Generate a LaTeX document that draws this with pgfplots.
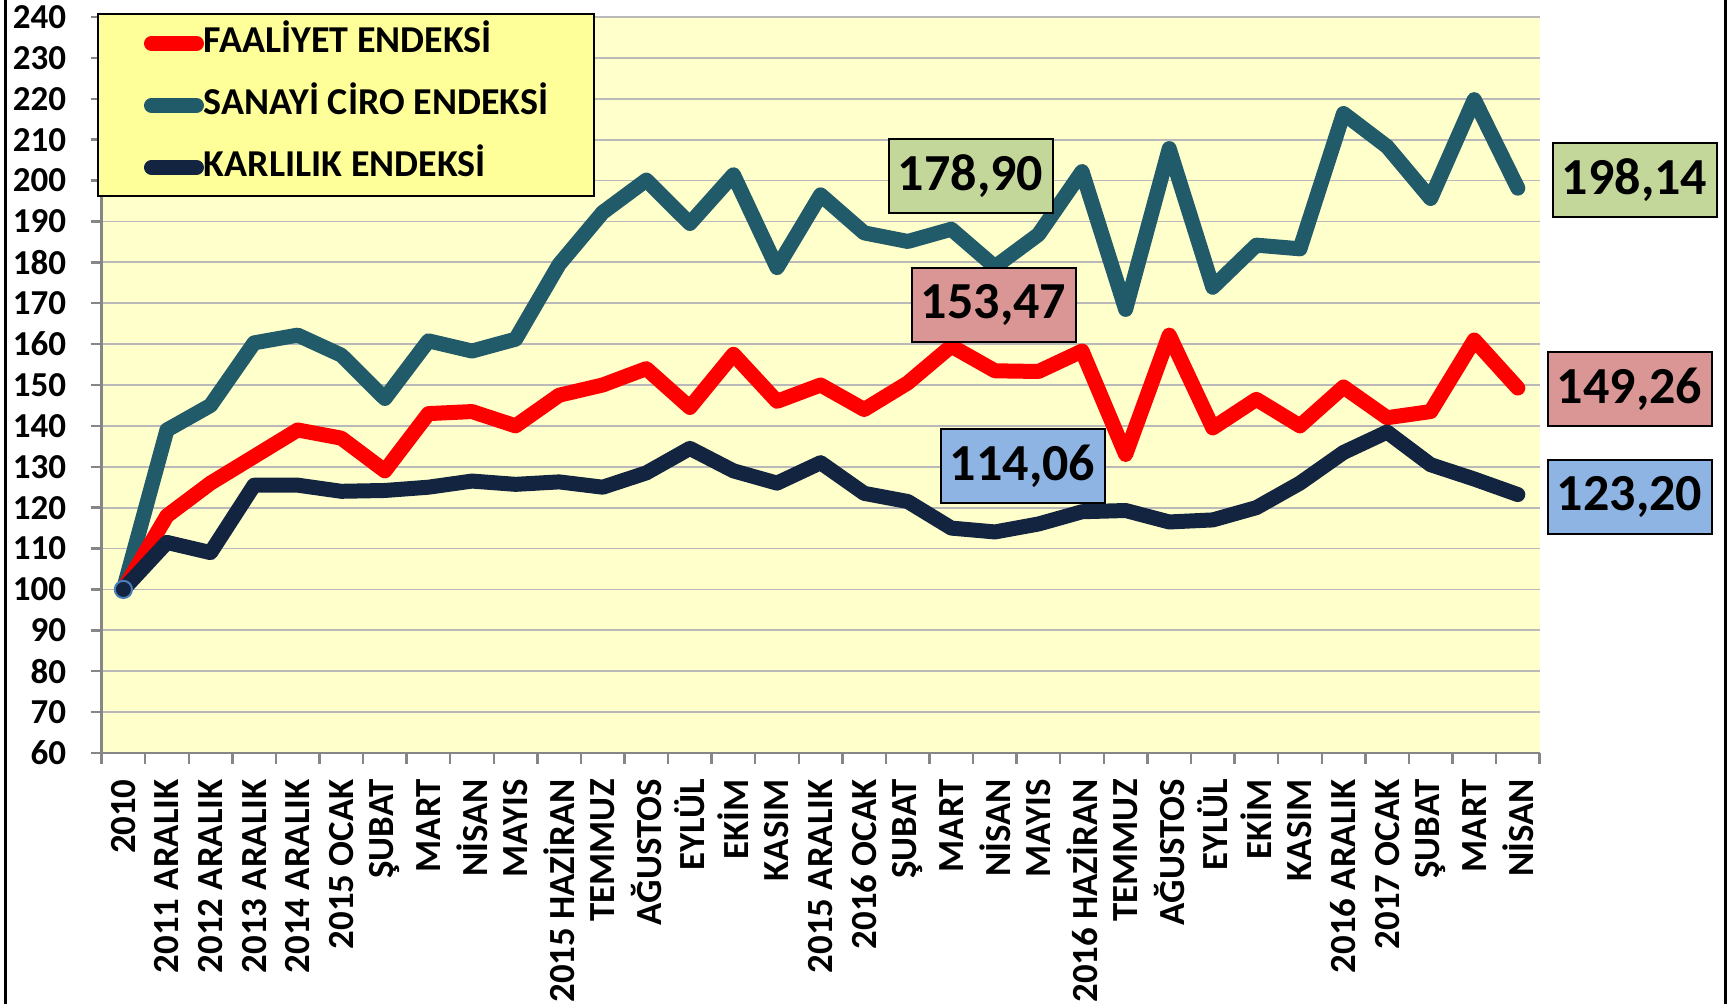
\documentclass[border=0pt]{standalone}
\usepackage{fontspec}
\setmainfont{Carlito}
\usepackage{pgfplots}
\pgfplotsset{compat=1.18}
\definecolor{faal}{HTML}{FF0000}
\definecolor{sanayi}{HTML}{215A69}
\definecolor{karl}{HTML}{12243F}
\definecolor{bgyel}{HTML}{FFFFCC}
\definecolor{legyel}{HTML}{FFFF99}
\definecolor{boxg}{HTML}{C4D79B}
\definecolor{boxr}{HTML}{DA9694}
\definecolor{boxb}{HTML}{8DB4E2}
\definecolor{axgray}{HTML}{868686}
\definecolor{mkblue}{HTML}{4A7EBB}
\begin{document}
\begin{tikzpicture}
\useasboundingbox (0,0) rectangle (865.5pt,502pt);
\begin{axis}[
  at={(50.8pt,125.5pt)}, anchor=south west,
  scale only axis, width=719pt, height=368pt,
  xmin=-0.5, xmax=32.5, ymin=60, ymax=240,
  axis x line=bottom, axis y line=left,
  axis line style={-, draw=axgray, line width=1.2pt},
  every outer x axis line/.append style={-},
  every outer y axis line/.append style={-},
  axis background/.style={fill=bgyel},
  ytick={60,70,...,240},
  ymajorgrids, major grid style={draw=gray!55, line width=0.9pt},
  xtick={-0.5,0.5,...,32.5},
  x tick label as interval,
  xticklabels={2010, 2011 ARALIK, 2012 ARALIK, 2013 ARALIK, 2014 ARALIK, 2015 OCAK, ŞUBAT, MART, NİSAN, MAYIS, 2015 HAZİRAN, TEMMUZ, AĞUSTOS, EYLÜL, EKİM, KASIM, 2015 ARALIK, 2016 OCAK, ŞUBAT, MART, NİSAN, MAYIS, 2016 HAZİRAN, TEMMUZ, AĞUSTOS, EYLÜL, EKİM, KASIM, 2016 ARALIK, 2017 OCAK, ŞUBAT, MART, NİSAN},
  tick align=outside, major tick length=5.5pt,
  tick style={draw=axgray, line width=1.2pt},
  xticklabel style={font=\bfseries\fontsize{18.4}{18.4}\selectfont, rotate=90, anchor=east, inner sep=0pt, xshift=-7.5pt},
  yticklabel style={font=\bfseries\fontsize{17.5}{17.5}\selectfont, anchor=east, inner sep=0pt, xshift=-12pt},
  /pgf/number format/assume math mode=true,
  legend style={at={(-0.0032,1.0048)}, anchor=north west, fill=legyel, draw=black, line width=1pt,
    inner xsep=23pt, inner ysep=7pt, font=\bfseries\fontsize{19}{19}\selectfont,
    row sep=16pt, column sep=0pt, nodes={inner sep=0pt, text height=12pt, text depth=3pt}, cells={anchor=west}},
  legend image code/.code={\draw[#1, line cap=round] (3.75pt,0pt) -- (26.25pt,0pt);},
]
\addlegendimage{faal, line width=7.5pt}
\addlegendentry{FAALİYET ENDEKSİ}
\addlegendimage{sanayi, line width=7.5pt}
\addlegendentry{SANAYİ CİRO ENDEKSİ}
\addlegendimage{karl, line width=7.5pt}
\addlegendentry{KARLILIK ENDEKSİ}

% SANAYI CIRO ENDEKSI
\addplot[sanayi, line width=7.5pt, line join=round, line cap=round, forget plot] coordinates {
(0,100) (1,139) (2,145) (3,160.3) (4,162.2) (5,157.3) (6,146.7) (7,160.8) (8,158.3) (9,161.2)
(10,179.5) (11,192.2) (12,200.1) (13,189.5) (14,201.4) (15,178.7) (16,196.5) (17,187.2) (18,185.1) (19,188.1)
(20,178.90) (21,186.8) (22,202.2) (23,168.5) (24,207.8) (25,173.9) (26,184.2) (27,183.3) (28,216.4) (29,208.3)
(30,195.6) (31,219.8) (32,198.14)};
% FAALIYET ENDEKSI
\addplot[faal, line width=7.5pt, line join=round, line cap=round, forget plot] coordinates {
(0,100) (1,118) (2,126) (3,132.5) (4,139) (5,137) (6,129) (7,143) (8,143.5) (9,140)
(10,147.5) (11,150) (12,154) (13,144.5) (14,157.5) (15,146) (16,150) (17,144) (18,150.5) (19,159.5)
(20,153.47) (21,153.3) (22,158.3) (23,133) (24,162.2) (25,139.5) (26,146.5) (27,140) (28,149.5) (29,142)
(30,143.5) (31,161) (32,149.26)};
% KARLILIK ENDEKSI
\addplot[karl, line width=7.5pt, line join=round, line cap=round, forget plot] coordinates {
(0,100) (1,111.5) (2,109) (3,125.5) (4,125.5) (5,124) (6,124.2) (7,125) (8,126.5) (9,125.7)
(10,126.3) (11,125) (12,128.5) (13,134.5) (14,129) (15,126) (16,131) (17,123.5) (18,121.5) (19,115)
(20,114.06) (21,116) (22,119) (23,119.3) (24,116.5) (25,117) (26,120) (27,126) (28,133.5) (29,138.5)
(30,130.5) (31,127) (32,123.20)};
\addplot[only marks, mark=*, mark size=4.3pt, mark options={fill=karl, draw=mkblue, line width=1pt}, forget plot] coordinates {(0,100)};
\end{axis}
\draw[black, line width=1.2pt] (2.7pt,0pt) -- (2.7pt,502pt);
\draw[black, line width=1.2pt] (862.8pt,0pt) -- (862.8pt,502pt);
\tikzset{vbox/.style={draw=black, line width=1pt, minimum width=82pt, minimum height=37pt, inner sep=0pt, font=\bfseries\fontsize{26}{26}\selectfont}}
\node[vbox, fill=boxg] at (485.25pt,414pt) {178,90};
\node[vbox, fill=boxr] at (496.75pt,349.5pt) {153,47};
\node[vbox, fill=boxb] at (511.25pt,268.75pt) {114,06};
\node[vbox, fill=boxg] at (817.25pt,412pt) {198,14};
\node[vbox, fill=boxr] at (814.75pt,307.5pt) {149,26};
\node[vbox, fill=boxb] at (814.75pt,253.5pt) {123,20};
\end{tikzpicture}
\end{document}
